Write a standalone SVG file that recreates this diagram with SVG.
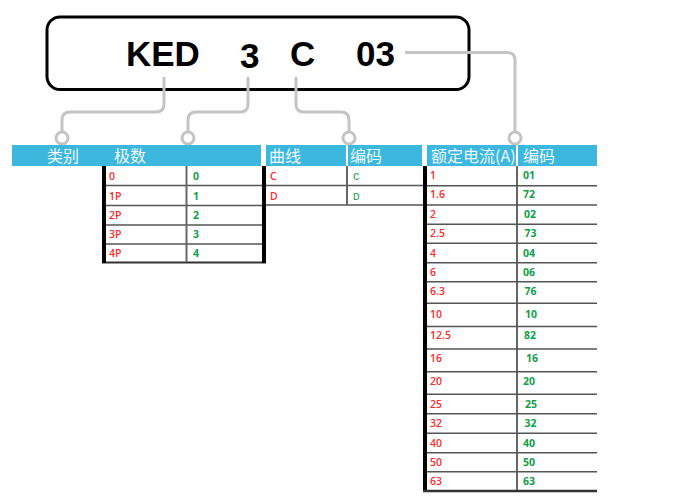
<svg xmlns="http://www.w3.org/2000/svg" width="673" height="501" viewBox="0 0 673 501">
<style>
.code{font-family:"Liberation Sans",Arial,sans-serif;font-weight:bold;font-size:35px;fill:#000}
.conn{fill:none;stroke:#c4c4c4;stroke-width:3}
.dot{fill:#fff;stroke:#c4c4c4;stroke-width:3}
.hdr{fill:#3cb7de}
.ht{font-family:"Noto Sans CJK SC","Noto Sans",sans-serif;font-size:16px;fill:#eef8fc}
.r{font-family:"Open Sans","Noto Sans",sans-serif;font-size:10.5px;font-weight:600;fill:#ff2a2a}
.g{font-family:"Open Sans","Noto Sans",sans-serif;font-size:10.5px;font-weight:bold;fill:#129e4a}
.gm{font-family:"Liberation Mono",monospace;font-size:11px;fill:#129e4a}
.bar{fill:#000}
.row{stroke:#555;stroke-width:1.6}
.col{stroke:#666;stroke-width:2}
</style>
<g id="code-box">
<rect x="47" y="17" width="422" height="72.5" rx="13" fill="#fff" stroke="#000" stroke-width="3"/>
<text class="code" x="126" y="66">KED</text>
<text class="code" x="240" y="68">3</text>
<text class="code" x="290" y="66">C</text>
<text class="code" x="356" y="66">03</text>
</g>
<g id="connectors">
<path class="conn" d="M164,77 V104 Q164,112 156,112 H70 Q62,112 62,120 V131.5"/>
<path class="conn" d="M248,77 V104 Q248,112 240,112 H196 Q188,112 188,120 V131.5"/>
<path class="conn" d="M296,77 V104 Q296,112 304,112 H341 Q349,112 349,120 V131.5"/>
<path class="conn" d="M405,52.5 H507 Q515,52.5 515,60.5 V131.5"/>
<circle class="dot" cx="62" cy="138" r="6"/>
<circle class="dot" cx="188" cy="138" r="6"/>
<circle class="dot" cx="349" cy="138" r="6"/>
<circle class="dot" cx="515" cy="138" r="6"/>
</g>
<g id="header">
<rect class="hdr" x="12" y="145" width="249" height="21"/>
<rect class="hdr" x="266" y="145" width="80" height="21"/>
<rect class="hdr" x="348" y="145" width="74" height="21"/>
<rect class="hdr" x="427" y="145" width="89" height="21"/>
<rect class="hdr" x="518" y="145" width="79" height="21"/>
<text class="ht" x="47" y="162">类别</text>
<text class="ht" x="114" y="162">极数</text>
<text class="ht" x="269" y="162">曲线</text>
<text class="ht" x="350" y="162">编码</text>
<text class="ht" x="431" y="162">额定电流(A)</text>
<text class="ht" x="523" y="162">编码</text>
</g>
<g id="poles-table">
<line class="row" x1="105" y1="185.5" x2="262" y2="185.5"/>
<line class="row" x1="105" y1="205.5" x2="262" y2="205.5"/>
<line class="row" x1="105" y1="225" x2="262" y2="225"/>
<line class="row" x1="105" y1="244" x2="262" y2="244"/>
<line x1="102" y1="262.5" x2="266" y2="262.5" stroke="#333" stroke-width="2"/>
<line class="col" x1="186.5" y1="166" x2="186.5" y2="262"/>
<rect class="bar" x="102" y="166" width="4" height="97"/>
<rect class="bar" x="262" y="166" width="4" height="97"/>
<text class="r" x="109" y="180">0</text><text class="g" x="193" y="180">0</text>
<text class="r" x="109" y="199.5">1P</text><text class="g" x="193" y="199.5">1</text>
<text class="r" x="109" y="219">2P</text><text class="g" x="193" y="219">2</text>
<text class="r" x="109" y="238">3P</text><text class="g" x="193" y="238">3</text>
<text class="r" x="109" y="257">4P</text><text class="g" x="193" y="257">4</text>
</g>
<g id="curve-table">
<line class="row" x1="266" y1="185.5" x2="423" y2="185.5"/>
<line class="row" x1="266" y1="205" x2="423" y2="205"/>
<line class="col" x1="347" y1="166" x2="347" y2="205"/>
<text class="r" x="270" y="180">C</text><text class="gm" x="353" y="180">C</text>
<text class="r" x="270" y="199.5">D</text><text class="gm" x="353" y="199.5">D</text>
</g>
<g id="current-table">
<rect class="bar" x="423" y="166" width="4" height="325"/>
<line class="col" x1="517" y1="166" x2="517" y2="491"/>
<line class="row" x1="427" y1="185.7" x2="597" y2="185.7"/>
<line class="row" x1="427" y1="205" x2="597" y2="205"/>
<line class="row" x1="427" y1="224.3" x2="597" y2="224.3"/>
<line class="row" x1="427" y1="243.3" x2="597" y2="243.3"/>
<line class="row" x1="427" y1="262.7" x2="597" y2="262.7"/>
<line class="row" x1="427" y1="281.7" x2="597" y2="281.7"/>
<line class="row" x1="427" y1="303.3" x2="597" y2="303.3"/>
<line class="row" x1="427" y1="326.5" x2="597" y2="326.5"/>
<line class="row" x1="427" y1="349" x2="597" y2="349"/>
<line class="row" x1="427" y1="371.7" x2="597" y2="371.7"/>
<line class="row" x1="427" y1="394.3" x2="597" y2="394.3"/>
<line class="row" x1="427" y1="413.7" x2="597" y2="413.7"/>
<line class="row" x1="427" y1="433.3" x2="597" y2="433.3"/>
<line class="row" x1="427" y1="452.7" x2="597" y2="452.7"/>
<line class="row" x1="427" y1="471.7" x2="597" y2="471.7"/>
<line x1="423" y1="491" x2="597" y2="491" stroke="#333" stroke-width="2.5"/>
<text class="r" x="430" y="179">1</text><text class="g" x="523" y="179">01</text>
<text class="r" x="430" y="198.3">1.6</text><text class="g" x="523" y="198.3">72</text>
<text class="r" x="430" y="218.3">2</text><text class="g" x="524" y="218.3">02</text>
<text class="r" x="430" y="237.3">2.5</text><text class="g" x="524.5" y="237.3">73</text>
<text class="r" x="430" y="256.7">4</text><text class="g" x="523" y="256.7">04</text>
<text class="r" x="430" y="276">6</text><text class="g" x="523" y="276">06</text>
<text class="r" x="430" y="295">6.3</text><text class="g" x="524.5" y="295">76</text>
<text class="r" x="430" y="317.7">10</text><text class="g" x="525" y="317.7">10</text>
<text class="r" x="430" y="339.3">12.5</text><text class="g" x="524" y="339.3">82</text>
<text class="r" x="430" y="362.3">16</text><text class="g" x="526" y="362.3">16</text>
<text class="r" x="430" y="385">20</text><text class="g" x="523" y="385">20</text>
<text class="r" x="430" y="407.7">25</text><text class="g" x="525" y="407.7">25</text>
<text class="r" x="430" y="426.7">32</text><text class="g" x="524.5" y="426.7">32</text>
<text class="r" x="430" y="446.7">40</text><text class="g" x="523" y="446.7">40</text>
<text class="r" x="430" y="465.7">50</text><text class="g" x="523" y="465.7">50</text>
<text class="r" x="430" y="485">63</text><text class="g" x="523" y="485">63</text>
</g>
</svg>
